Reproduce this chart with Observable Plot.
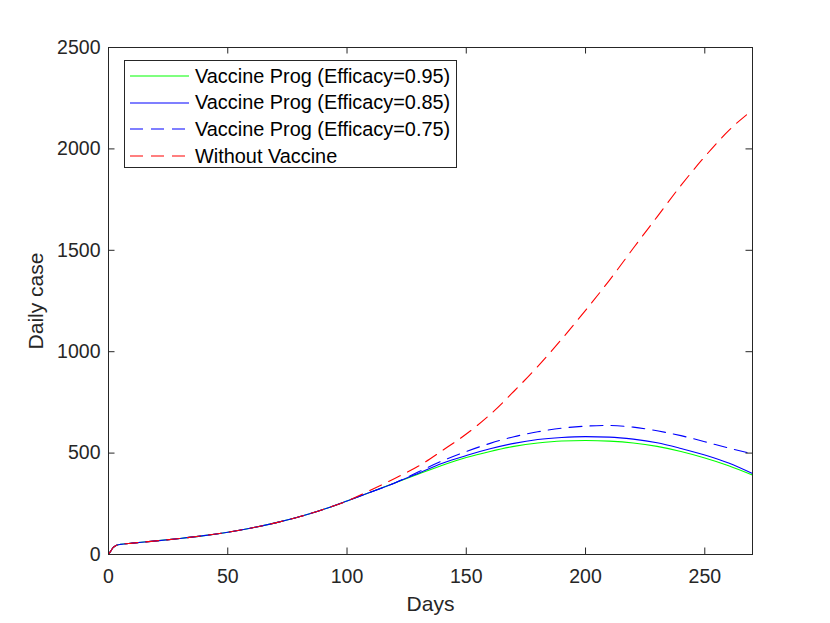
<!DOCTYPE html>
<html><head><meta charset="utf-8">
<script src="https://cdn.jsdelivr.net/npm/d3@7"></script>
<script src="https://cdn.jsdelivr.net/npm/@observablehq/plot@0.6"></script>
<style>
body{margin:0;background:#fff;}
#wrap{position:relative;width:830px;height:623px;font-family:"Liberation Sans",Arial,Helvetica,sans-serif;}
#legend{position:absolute;left:124px;top:60px;width:333px;height:108px;border:1px solid #262626;background:#fff;box-sizing:border-box;}
.row{position:absolute;left:0;height:26px;display:flex;align-items:center;font-size:19.9px;color:#000;white-space:nowrap;}
.row svg{margin-left:5px;margin-right:6px;}
</style></head>
<body><div id="wrap"></div>
<script>
// Days (x values)
const days = [0,1,2,3,4,5,10,20,30,40,50,60,70,80,90,100,110,120,130,140,150,160,170,180,190,200,210,220,230,240,250,260,270];
// Shared early part (days 0..120) for the vaccine curves
const vaccineCommon = [0,18,35,43,48,50,56,67,79,93,110,131,156,186,222,264,308,353];
// Days 130..270
const eff95Tail = [397,440,478,508,533,550,560,562,559,550,533,508,476,438,392];
const eff85Tail = [401,450,488,521,548,567,577,581,579,569,551,523,491,451,399];
const eff75Tail = [408,462,508,548,581,605,623,633,636,628,610,586,556,525,496];
// Without vaccine: shared up to day 100, then days 110..270
const noVaccineTail = [318,375,436,513,594,690,805,928,1062,1204,1352,1510,1665,1820,1962,2090,2192];

const seriesNames = ["Vaccine Prog (Efficacy=0.95)","Vaccine Prog (Efficacy=0.85)","Vaccine Prog (Efficacy=0.75)","Without Vaccine"];
const seriesColors = ["#00ff00","#0000ff","#0000ff","#ff0000"];
const seriesDash = [null,null,"13,8","13,8"];
const xTicks = [0,50,100,150,200,250];
const yTicks = [0,500,1000,1500,2000,2500];

const valueSets = [
  vaccineCommon.concat(eff95Tail),
  vaccineCommon.concat(eff85Tail),
  vaccineCommon.concat(eff75Tail),
  vaccineCommon.slice(0,16).concat(noVaccineTail)
];
const rows = valueSets.map(vals => vals.map((v,i)=>({day:days[i], value:v})));

const W=830,H=623,mL=108,mR=78,mT=47,mB=69;
const fw=W-mL-mR, fh=H-mT-mB, tl=6.5;
const axisColor="#262626";

const marks = [];
rows.forEach((r,i)=>{
  marks.push(Plot.line(r,{x:"day",y:"value",stroke:seriesColors[i],strokeWidth:1.1,strokeDasharray:seriesDash[i],curve:"monotone-x"}));
});
marks.push(
  Plot.frame({stroke:axisColor,strokeWidth:1}),
  Plot.ruleX(xTicks,{x:d=>d,insetTop:fh-tl,stroke:axisColor}),
  Plot.ruleX(xTicks,{x:d=>d,insetBottom:fh-tl,stroke:axisColor}),
  Plot.ruleY(yTicks,{y:d=>d,insetRight:fw-tl,stroke:axisColor}),
  Plot.ruleY(yTicks,{y:d=>d,insetLeft:fw-tl,stroke:axisColor}),
  Plot.axisX({ticks:xTicks,tickSize:0,tickPadding:15,fontSize:19.5,label:null,tickFormat:d=>String(d),fill:axisColor}),
  Plot.axisY({ticks:yTicks,tickSize:0,tickPadding:8,fontSize:19.5,label:null,tickFormat:d=>String(d),fill:axisColor}),
  Plot.text(["Days"],{frameAnchor:"bottom",dy:56,fontSize:21,fill:axisColor}),
  Plot.text(["Daily case"],{frameAnchor:"left",textAnchor:"middle",rotate:-90,dx:-72,fontSize:21,fill:axisColor})
);

const chart = Plot.plot({
  width:W,height:H,marginLeft:mL,marginRight:mR,marginTop:mT,marginBottom:mB,
  x:{domain:[0,270]},
  y:{domain:[0,2500]},
  style:{fontFamily:'"Liberation Sans",Arial,Helvetica,sans-serif',background:"#fff",overflow:"visible"},
  marks
});
const wrap=document.getElementById("wrap");
wrap.appendChild(chart);

// legend
const leg=document.createElement("div");
leg.id="legend";
seriesNames.forEach((name,i)=>{
  const row=document.createElement("div");
  row.className="row";
  row.style.top=(2+i*26.7)+"px";
  const dash = seriesDash[i] ? `stroke-dasharray="${seriesDash[i]}"` : "";
  row.innerHTML=`<svg width="59" height="4"><line x1="0" y1="2" x2="59" y2="2" stroke="${seriesColors[i]}" stroke-width="1.1" ${dash}/></svg><span>${name}</span>`;
  leg.appendChild(row);
});
wrap.appendChild(leg);
</script>
</body></html>
